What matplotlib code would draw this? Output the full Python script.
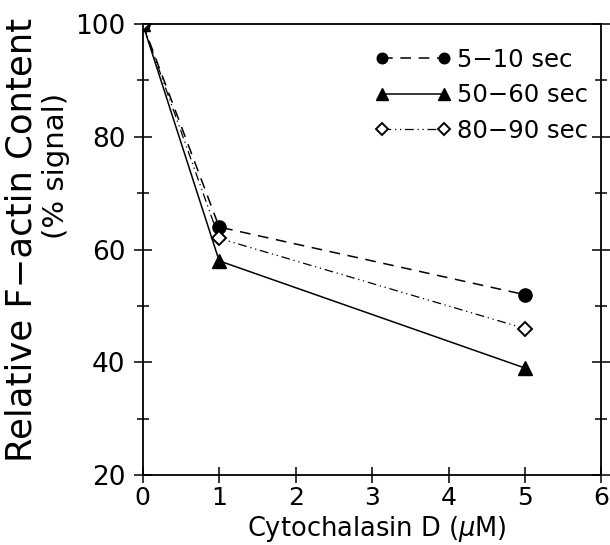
import numpy as np
import matplotlib.pyplot as plt
from matplotlib.ticker import MultipleLocator

plt.rcParams['font.family'] = ['DejaVu Sans']
plt.rcParams['mathtext.fontset'] = 'dejavusans'

conc = [0, 1, 5]
labels = ['5\u221210 sec', '50\u221260 sec', '80\u221290 sec']
v_5_10 = [100, 64, 52]
v_50_60 = [100, 58, 39]
v_80_90 = [100, 62, 46]

fig = plt.figure(figsize=(6.1, 5.45), dpi=100)
ax = fig.add_axes([0.234, 0.128, 0.752, 0.828])

ax.plot(conc, v_5_10, color='k', ls=(0, (7, 5)), lw=1.1, marker='o', ms=9.5,
        mfc='k', mec='k', label=labels[0])
ax.plot(conc, v_50_60, color='k', ls='-', lw=1.1, marker='^', ms=10,
        mfc='k', mec='k', label=labels[1])
ax.plot(conc, v_80_90, color='k', ls=(0, (7, 3, 1, 3, 1, 3)), lw=0.9, marker='D', ms=7.5,
        mfc='white', mec='k', mew=1.4, label=labels[2])

ax.set_xlim(0, 6)
ax.set_ylim(20, 100)
ax.xaxis.set_major_locator(MultipleLocator(1))
ax.yaxis.set_major_locator(MultipleLocator(20))
ax.yaxis.set_minor_locator(MultipleLocator(10))
ax.tick_params(axis='both', which='both', direction='inout', color='k')
ax.tick_params(axis='y', which='major', length=13, width=1.1, pad=6, labelsize=19)
ax.tick_params(axis='y', which='minor', length=8, width=1.1)
ax.tick_params(axis='x', which='major', length=11, width=1.1, pad=2, labelsize=18)
ax.tick_params(axis='y', right=True, which='both')
for s in ax.spines.values():
    s.set_linewidth(1.3)

ax.set_xlabel('Cytochalasin D ($\\mu$M)', fontsize=18.5)
ax.xaxis.set_label_coords(0.51, -0.086)

# two-line y label
fig.text(0.036, 0.56, 'Relative F\u2212actin Content', rotation=90,
         ha='center', va='center', fontsize=25.5)
fig.text(0.092, 0.695, '(% signal)', rotation=90,
         ha='center', va='center', fontsize=21)

ax.legend(loc='upper right', bbox_to_anchor=(1.012, 0.99), frameon=False,
          numpoints=2, fontsize=17.5, handlelength=3.15, handletextpad=0.2,
          labelspacing=0.47, borderaxespad=0.5, borderpad=0.3, markerscale=0.8)

fig.savefig('out.png', dpi=100)
